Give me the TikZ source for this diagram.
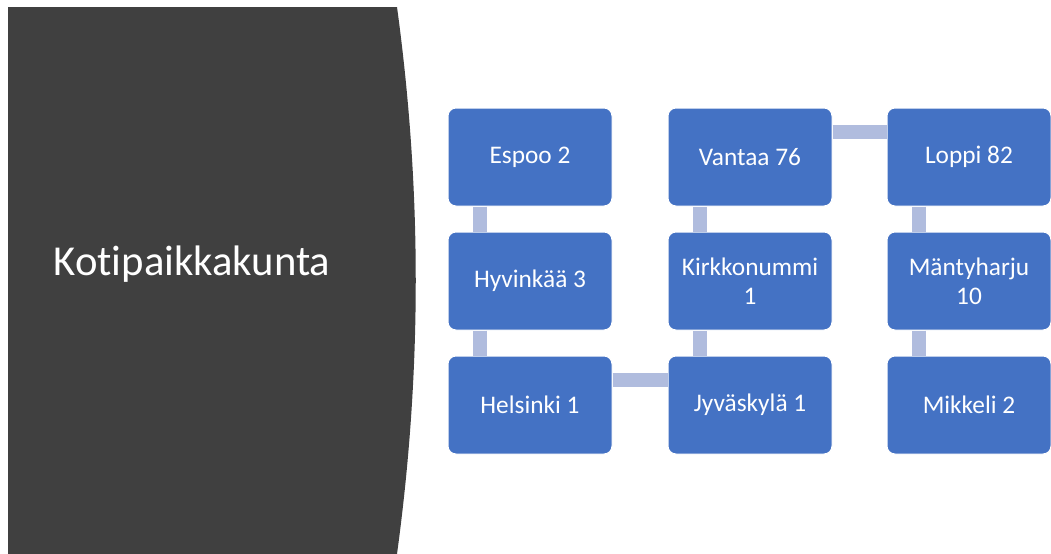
\documentclass[tikz,border=0pt]{standalone}
\usepackage{fontspec}
\setmainfont{Carlito}[Ligatures=NoCommon]
\definecolor{panelgray}{HTML}{404040}
\definecolor{boxblue}{HTML}{4472C4}
\definecolor{linkblue}{HTML}{B0BCDE}

\begin{document}
\begin{tikzpicture}[x=0.75pt,y=-0.75pt,
  town/.style={rectangle, rounded corners=6pt, fill=boxblue, draw=white, line width=0.75pt,
    minimum width=123pt, minimum height=73.5pt, text=white, align=center,
    font=\fontsize{19}{22}\selectfont, inner sep=2pt},
  link/.style={linkblue, line width=11pt}]
\useasboundingbox (0,0) rectangle (1051,554);
% left panel
\fill [panelgray] (8,7) -- (397,7) .. controls (422,190) and (422,371) .. (397,554) -- (8,554) -- cycle;
\node [anchor=west, text=white, font=\fontsize{32}{38}\selectfont] (title) at (49,264) {Kotipaikkakunta};

% towns
\node [town] (espoo) at (530,157) {Espoo 2};
\node [town] (hyvinkaa) at (530,281) {Hyvinkää 3};
\node [town] (helsinki) at (530,405) {Helsinki 1};
\node [town] (vantaa) at (750,157) {Vantaa 76};
\node [town] (kirkkonummi) at (750,281) {Kirkkonummi\\1};
\node [town] (jyvaskyla) at (750,405) {Jyväskylä 1};
\node [town] (loppi) at (969,157) {Loppi 82};
\node [town] (mantyharju) at (969,281) {Mäntyharju\\10};
\node [town] (mikkeli) at (969,405) {Mikkeli 2};

% links
\draw [link] ([xshift=24.4pt]espoo.south west) -- ([xshift=24.4pt]hyvinkaa.north west);
\draw [link] ([xshift=24.4pt]hyvinkaa.south west) -- ([xshift=24.4pt]helsinki.north west);
\draw [link] ([yshift=-18.4pt]helsinki.north east) -- ([yshift=-18.4pt]jyvaskyla.north west);
\draw [link] ([xshift=24.4pt]jyvaskyla.north west) -- ([xshift=24.4pt]kirkkonummi.south west);
\draw [link] ([xshift=24.4pt]kirkkonummi.north west) -- ([xshift=24.4pt]vantaa.south west);
\draw [link] ([yshift=-18.4pt]vantaa.north east) -- ([yshift=-18.4pt]loppi.north west);
\draw [link] ([xshift=24.4pt]loppi.south west) -- ([xshift=24.4pt]mantyharju.north west);
\draw [link] ([xshift=24.4pt]mantyharju.south west) -- ([xshift=24.4pt]mikkeli.north west);

\end{tikzpicture}
\end{document}
